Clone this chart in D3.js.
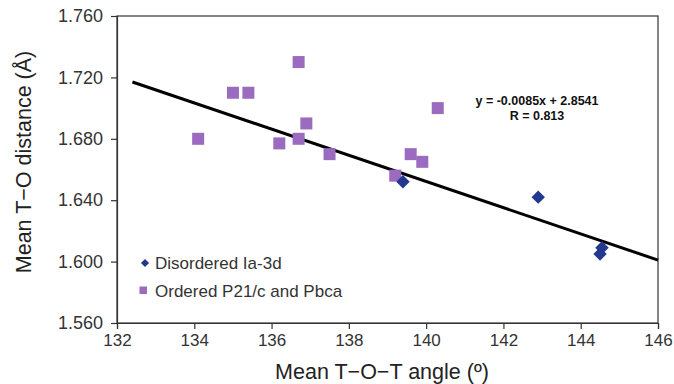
<!DOCTYPE html>
<html>
<head>
<meta charset="utf-8">
<script src="https://cdn.jsdelivr.net/npm/d3@7"></script>
<style>
  body { margin: 0; background: #fff; }
  text { font-family: "Liberation Sans", Arial, sans-serif; }
</style>
</head>
<body>
<div id="chart"></div>
<script>
// Disordered Ia-3d (diamonds)
const disorderedX = [139.4, 142.9, 144.55, 144.5];
const disorderedY = [1.652, 1.642, 1.609, 1.605];

// Ordered P21/c and Pbca (squares)
const orderedX = [134.1, 135.0, 135.4, 136.7, 136.9, 136.2, 136.7, 137.5, 140.3, 139.6, 139.9, 139.2];
const orderedY = [1.680, 1.710, 1.710, 1.730, 1.690, 1.677, 1.680, 1.670, 1.700, 1.670, 1.665, 1.656];

// trend line endpoints as drawn
const trendX = [132.4, 146];
const trendY = [1.717, 1.601];

const xTicks = [132, 134, 136, 138, 140, 142, 144, 146];
const yTicks = [1.56, 1.60, 1.64, 1.68, 1.72, 1.76];

const margin = { top: 16, right: 16, bottom: 61, left: 117 },
    width = 674 - margin.left - margin.right,
    height = 384 - margin.top - margin.bottom;

const svg = d3.select("#chart")
    .append("svg")
    .attr("width", 674)
    .attr("height", 384)
    .append("g")
    .attr("transform", `translate(${margin.left}, ${margin.top})`);

const x = d3.scaleLinear().domain([132, 146]).range([0, width]);
const y = d3.scaleLinear().domain([1.56, 1.76]).range([height, 0]);

// frame
svg.append("rect")
    .attr("width", width).attr("height", height)
    .attr("fill", "none").attr("stroke", "#333").attr("stroke-width", 1.2);

const xAxis = svg.append("g")
    .attr("transform", `translate(0, ${height})`)
    .call(d3.axisBottom(x).tickValues(xTicks).tickSize(6).tickPadding(5));
xAxis.selectAll("text").attr("font-size", 17).attr("fill", "#333")
    .style("font-family", "Liberation Sans, Arial, sans-serif");

const yAxis = svg.append("g")
    .call(d3.axisLeft(y).tickValues(yTicks).tickFormat(d3.format(".3f")).tickSize(6).tickPadding(8));
yAxis.selectAll("text").attr("font-size", 18).attr("fill", "#333")
    .style("font-family", "Liberation Sans, Arial, sans-serif");

[xAxis, yAxis].forEach(a => {
    a.select(".domain").attr("stroke", "#333").attr("stroke-width", 1.2);
    a.selectAll(".tick line").attr("stroke", "#333").attr("stroke-width", 1.2);
});

// axis titles
svg.append("text")
    .attr("x", 382 - margin.left)
    .attr("y", 379 - margin.top)
    .attr("text-anchor", "middle")
    .attr("font-size", 21.5)
    .attr("fill", "#222")
    .text("Mean T\u2212O\u2212T angle (\u00BA)");

svg.append("text")
    .attr("transform", `translate(${31 - margin.left}, ${162 - margin.top}) rotate(-90)`)
    .attr("text-anchor", "middle")
    .attr("font-size", 21.5)
    .attr("fill", "#222")
    .text("Mean T\u2212O distance (\u00C5)");

// trend line
svg.append("line")
    .attr("x1", x(trendX[0])).attr("y1", y(trendY[0]))
    .attr("x2", x(trendX[1])).attr("y2", y(trendY[1]))
    .attr("stroke", "#000").attr("stroke-width", 3);

// ordered squares
const sq = 12;
svg.append("g")
    .selectAll("rect")
    .data(orderedX.map((d, i) => [d, orderedY[i]]))
    .join("rect")
    .attr("x", d => x(d[0]) - sq / 2)
    .attr("y", d => y(d[1]) - sq / 2)
    .attr("width", sq).attr("height", sq)
    .attr("fill", "#9B6BC0");

// disordered diamonds
const diamond = d3.symbol().type(d3.symbolSquare).size(90);
svg.append("g")
    .selectAll("path")
    .data(disorderedX.map((d, i) => [d, disorderedY[i]]))
    .join("path")
    .attr("d", diamond)
    .attr("transform", d => `translate(${x(d[0])}, ${y(d[1])}) rotate(45)`)
    .attr("fill", "#22398F");

// equation
const eq = svg.append("g").attr("font-weight", "bold").attr("font-size", 12.5)
    .attr("text-anchor", "middle").attr("fill", "#111");
eq.append("text").attr("x", 537 - margin.left).attr("y", 105 - margin.top).text("y = -0.0085x + 2.8541");
eq.append("text").attr("x", 537 - margin.left).attr("y", 120 - margin.top).text("R = 0.813");

// legend
const legend = svg.append("g").attr("transform", `translate(${145 - margin.left}, ${263 - margin.top})`);
legend.append("path")
    .attr("d", d3.symbol().type(d3.symbolSquare).size(34))
    .attr("transform", "rotate(45)")
    .attr("fill", "#22398F");
legend.append("text").attr("x", 10).attr("y", 5.5).attr("font-size", 17).attr("fill", "#333")
    .text("Disordered Ia-3d");
legend.append("rect").attr("x", -5.5).attr("y", 27 - 3.5).attr("width", 7.5).attr("height", 7.5)
    .attr("fill", "#9B6BC0");
legend.append("text").attr("x", 10).attr("y", 34).attr("font-size", 17).attr("fill", "#333")
    .text("Ordered P21/c and Pbca");
</script>
</body>
</html>
